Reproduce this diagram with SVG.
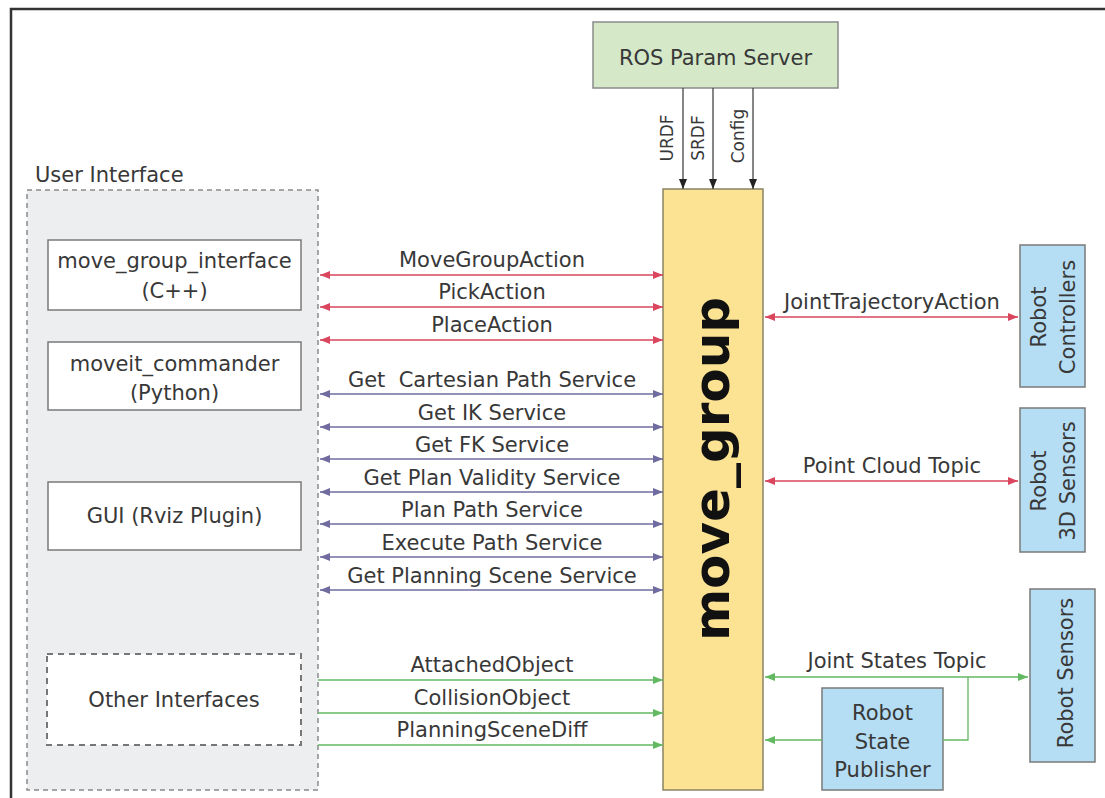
<svg xmlns="http://www.w3.org/2000/svg" width="1105" height="798" viewBox="0 0 1105 798">
<defs>
<style>
text{font-family:"DejaVu Sans","Liberation Sans",sans-serif;font-size:21px;fill:#383838}
.c{text-anchor:middle}
.sm{font-size:17px}
.box{fill:#ffffff;stroke:#7a7a7a;stroke-width:1.5}
.blue{fill:#b5ddf3;stroke:#7a7a7a;stroke-width:1.5}
.red{stroke:#d9465e;stroke-width:1.3;fill:none}
.pur{stroke:#716ca0;stroke-width:1.3;fill:none}
.grn{stroke:#62b962;stroke-width:1.3;fill:none}
.blk{stroke:#444;stroke-width:1.3;fill:none}
</style>
<marker id="mr" viewBox="0 0 10 8" refX="10" refY="4" markerWidth="10" markerHeight="8" markerUnits="userSpaceOnUse" orient="auto-start-reverse"><path d="M0,0 L10,4 L0,8 z" fill="#d9465e"/></marker>
<marker id="mp" viewBox="0 0 10 8" refX="10" refY="4" markerWidth="10" markerHeight="8" markerUnits="userSpaceOnUse" orient="auto-start-reverse"><path d="M0,0 L10,4 L0,8 z" fill="#716ca0"/></marker>
<marker id="mg" viewBox="0 0 10 8" refX="10" refY="4" markerWidth="10" markerHeight="8" markerUnits="userSpaceOnUse" orient="auto-start-reverse"><path d="M0,0 L10,4 L0,8 z" fill="#62b962"/></marker>
<marker id="mk" viewBox="0 0 10 8" refX="10" refY="4" markerWidth="10" markerHeight="8" markerUnits="userSpaceOnUse" orient="auto-start-reverse"><path d="M0,0 L10,4 L0,8 z" fill="#222"/></marker>
</defs>
<rect width="1105" height="798" fill="#ffffff"/>
<path d="M11,798 V9 H1105" fill="none" stroke="#333" stroke-width="2.5"/>

<g id="user_interface">
<rect x="27" y="190" width="291" height="600" fill="#eceef0" stroke="#8a8a8a" stroke-width="1.5" stroke-dasharray="5,4"/>
<text x="35" y="182">User Interface</text>
</g>

<g id="move_group_interface">
<rect class="box" x="48" y="240" width="253" height="70"/>
<text class="c" x="174.5" y="268">move_group_interface</text>
<text class="c" x="174.5" y="298">(C++)</text>
</g>

<g id="moveit_commander">
<rect class="box" x="48" y="342" width="253" height="68"/>
<text class="c" x="174.5" y="371">moveit_commander</text>
<text class="c" x="174.5" y="400">(Python)</text>
</g>

<g id="gui">
<rect class="box" x="48" y="482" width="253" height="68"/>
<text class="c" x="174.5" y="523">GUI (Rviz Plugin)</text>
</g>

<g id="other_interfaces">
<rect x="47" y="654" width="254" height="91" fill="#ffffff" stroke="#777" stroke-width="2" stroke-dasharray="6,5"/>
<text class="c" x="174" y="707">Other Interfaces</text>
</g>

<g id="ros_param_server">
<rect x="593" y="22" width="245" height="66" fill="#d5e9c9" stroke="#8a8a8a" stroke-width="1.5"/>
<text class="c" x="715.5" y="65">ROS Param Server</text>
</g>

<g id="move_group">
<rect x="663" y="189" width="100" height="601" fill="#fbe393" stroke="#8b8460" stroke-width="1.5"/>
<text class="c" transform="translate(729,469) rotate(-90)" style="font-weight:bold;font-size:50px;fill:#111">move_group</text>
</g>

<g id="robot_controllers">
<rect class="blue" x="1020" y="245" width="65" height="142"/>
<text class="c" transform="translate(1046,317) rotate(-90)">Robot</text>
<text class="c" transform="translate(1075,317) rotate(-90)">Controllers</text>
</g>

<g id="robot_3d_sensors">
<rect class="blue" x="1020" y="408" width="65" height="144"/>
<text class="c" transform="translate(1046,481) rotate(-90)">Robot</text>
<text class="c" transform="translate(1075,481) rotate(-90)">3D Sensors</text>
</g>

<g id="robot_sensors">
<rect class="blue" x="1030" y="589" width="65" height="173"/>
<text class="c" transform="translate(1073,673) rotate(-90)">Robot Sensors</text>
</g>

<g id="robot_state_publisher">
<rect class="blue" x="822" y="688" width="121" height="102"/>
<text class="c" x="882.5" y="720">Robot</text>
<text class="c" x="882.5" y="749">State</text>
<text class="c" x="882.5" y="777">Publisher</text>
</g>

<g id="connectors">
<path class="blk" d="M683,88 V189" marker-end="url(#mk)"/>
<path class="blk" d="M713,88 V189" marker-end="url(#mk)"/>
<path class="blk" d="M753,88 V189" marker-end="url(#mk)"/>
<text class="c sm" transform="translate(673,138) rotate(-90)">URDF</text>
<text class="c sm" transform="translate(704,138) rotate(-90)">SRDF</text>
<text class="c sm" transform="translate(744,136) rotate(-90)">Config</text>

<path class="red" d="M320,275 H663" marker-start="url(#mr)" marker-end="url(#mr)"/>
<path class="red" d="M320,307 H663" marker-start="url(#mr)" marker-end="url(#mr)"/>
<path class="red" d="M320,340 H663" marker-start="url(#mr)" marker-end="url(#mr)"/>
<text class="c" x="492" y="267">MoveGroupAction</text>
<text class="c" x="492" y="299">PickAction</text>
<text class="c" x="492" y="332">PlaceAction</text>

<path class="pur" d="M320,394 H663" marker-start="url(#mp)" marker-end="url(#mp)"/>
<path class="pur" d="M320,427 H663" marker-start="url(#mp)" marker-end="url(#mp)"/>
<path class="pur" d="M320,459 H663" marker-start="url(#mp)" marker-end="url(#mp)"/>
<path class="pur" d="M320,492 H663" marker-start="url(#mp)" marker-end="url(#mp)"/>
<path class="pur" d="M320,524 H663" marker-start="url(#mp)" marker-end="url(#mp)"/>
<path class="pur" d="M320,557 H663" marker-start="url(#mp)" marker-end="url(#mp)"/>
<path class="pur" d="M320,590 H663" marker-start="url(#mp)" marker-end="url(#mp)"/>
<text class="c" x="492" y="387" style="white-space:pre">Get  Cartesian Path Service</text>
<text class="c" x="492" y="420">Get IK Service</text>
<text class="c" x="492" y="452">Get FK Service</text>
<text class="c" x="492" y="485">Get Plan Validity Service</text>
<text class="c" x="492" y="517">Plan Path Service</text>
<text class="c" x="492" y="550">Execute Path Service</text>
<text class="c" x="492" y="583">Get Planning Scene Service</text>

<path class="grn" d="M318,680 H663" marker-end="url(#mg)"/>
<path class="grn" d="M318,713 H663" marker-end="url(#mg)"/>
<path class="grn" d="M318,745 H663" marker-end="url(#mg)"/>
<text class="c" x="492" y="672">AttachedObject</text>
<text class="c" x="492" y="705">CollisionObject</text>
<text class="c" x="492" y="737">PlanningSceneDiff</text>

<path class="red" d="M765,317 H1018" marker-start="url(#mr)" marker-end="url(#mr)"/>
<text class="c" x="892" y="309">JointTrajectoryAction</text>
<path class="red" d="M765,481 H1018" marker-start="url(#mr)" marker-end="url(#mr)"/>
<text class="c" x="892" y="473">Point Cloud Topic</text>

<path class="grn" d="M765,677 H1028" marker-start="url(#mg)" marker-end="url(#mg)"/>
<text class="c" x="897" y="668">Joint States Topic</text>
<path class="grn" d="M968,677 V740 H943"/>
<path class="grn" d="M822,740 H765" marker-end="url(#mg)"/>
</g>
</svg>
